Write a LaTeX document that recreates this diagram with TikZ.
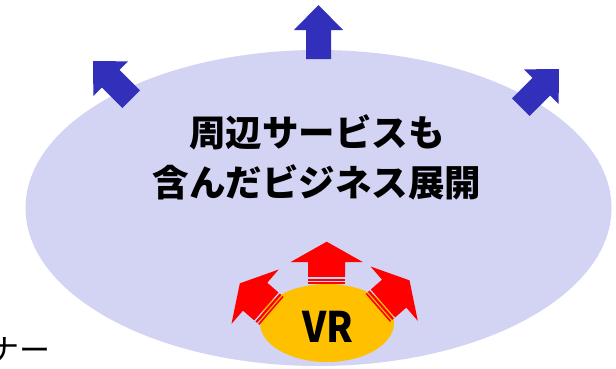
\documentclass[tikz,border=0pt]{standalone}
\usepackage{fontspec}
\newfontfamily\jpfont{Noto Sans CJK JP}
\definecolor{lavender}{RGB}{211,211,244}
\definecolor{bluec}{RGB}{50,48,186}
\definecolor{orangec}{RGB}{255,192,0}
\definecolor{redc}{RGB}{255,0,0}
\newcommand{\blueArrowShape}[3]{%
  \fill[bluec, shift={(#1,#2)}, rotate=#3]
    (-12.5pt,0pt) -- (-12.5pt,29pt) -- (-24.5pt,29pt) -- (0pt,54pt)
    -- (24.5pt,29pt) -- (12.5pt,29pt) -- (12.5pt,0pt) -- cycle;}
\newcommand{\redArrowShape}[3]{%
  \begin{scope}[shift={(#1,#2)}, rotate=#3]
    \fill[redc] (-18.5pt,0pt) rectangle (18.5pt,1.6pt);
    \fill[redc] (-18.5pt,3pt) rectangle (18.5pt,5.2pt);
    \fill[redc] (-18.5pt,6.8pt) -- (-18.5pt,21.7pt) -- (-36pt,21.7pt) -- (0pt,42pt)
      -- (36pt,21.7pt) -- (18.5pt,21.7pt) -- (18.5pt,6.8pt) -- cycle;
  \end{scope}}
\begin{document}
\begin{tikzpicture}[x=1pt,y=-1pt,
  maintext/.style={font=\jpfont\bfseries\fontsize{36.5pt}{50pt}\selectfont, align=center, inner sep=0pt},
  vrtext/.style={font=\jpfont\bfseries\fontsize{42pt}{42pt}\selectfont, inner sep=0pt, xscale=0.9},
  sidetext/.style={font=\jpfont\fontsize{31pt}{31pt}\selectfont, inner sep=0pt, anchor=east}]
\useasboundingbox (0,0) rectangle (616,368);
\clip (0,0) rectangle (616,368);
% big ellipse
\fill[lavender] (318.5,208) ellipse [x radius=293, y radius=158];
\node[maintext] (title) at (317,157) {周辺サービスも\\含んだビジネス展開};
% blue arrows
\blueArrowShape{318.5}{59}{0}
\blueArrowShape{131.2}{99.2}{45}
\blueArrowShape{520.8}{107.2}{-45}
% VR ellipse
\fill[orangec] (327,323) ellipse [x radius=67, y radius=39];
\node[vrtext] (vr) at (328,327) {VR};
% red arrows
\redArrowShape{326.7}{283.7}{0}
\redArrowShape{271.5}{310.9}{49}
\redArrowShape{377.8}{307.9}{-49}
% side text
\node[sidetext] (side) at (51,350) {ナー};
\end{tikzpicture}
\end{document}
